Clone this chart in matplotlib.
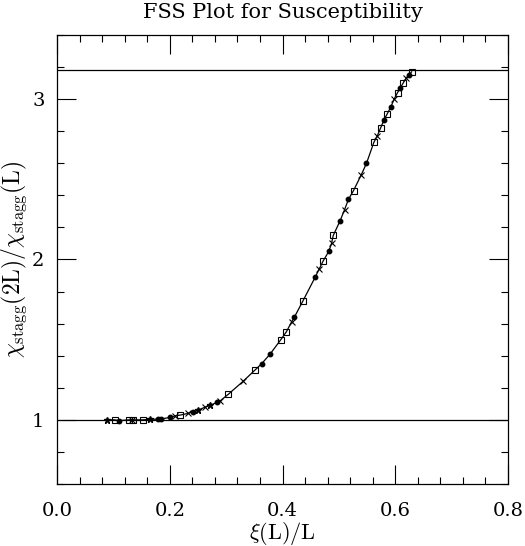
import matplotlib
matplotlib.use('Agg')
import matplotlib.pyplot as plt
from matplotlib.ticker import MultipleLocator, FormatStrFormatter

plt.rcParams['font.family'] = 'DejaVu Serif'
plt.rcParams['mathtext.fontset'] = 'cm'

# scaling data: xi(L)/L and chi(2L)/chi(L)
sq_x = [0.102, 0.128, 0.135, 0.152, 0.219, 0.304, 0.351, 0.397, 0.407, 0.436,
        0.472, 0.490, 0.526, 0.562, 0.574, 0.586, 0.604, 0.614, 0.629]
sq_y = [1.00, 1.00, 1.00, 1.00, 1.03, 1.16, 1.31, 1.50, 1.55, 1.74,
        1.99, 2.15, 2.43, 2.73, 2.82, 2.91, 3.04, 3.10, 3.17]
dot_x = [0.110, 0.180, 0.184, 0.200, 0.241, 0.284, 0.363, 0.378, 0.421, 0.458,
         0.482, 0.502, 0.517, 0.549, 0.580, 0.592, 0.609, 0.624]
dot_y = [0.995, 1.005, 1.005, 1.015, 1.05, 1.11, 1.35, 1.41, 1.64, 1.89,
         2.05, 2.24, 2.375, 2.60, 2.87, 2.95, 3.07, 3.15]
crs_x = [0.133, 0.210, 0.232, 0.263, 0.290, 0.330, 0.416, 0.465, 0.487, 0.510,
         0.540, 0.568, 0.598, 0.619]
crs_y = [1.00, 1.025, 1.04, 1.08, 1.12, 1.24, 1.61, 1.94, 2.10, 2.31,
         2.53, 2.77, 3.00, 3.13]
star_x = [0.088, 0.165, 0.250, 0.272]
star_y = [1.00, 1.003, 1.06, 1.09]

y_low = 1.0
y_high = 3.18

fig = plt.figure(figsize=(5.25, 5.46), dpi=100)
ax = fig.add_axes([57/525, 62/546, 451/525, 449/546])

# line through everything, sorted by x
pts = sorted(zip(sq_x + dot_x + crs_x + star_x, sq_y + dot_y + crs_y + star_y))
ax.plot([p[0] for p in pts], [p[1] for p in pts], color='k', lw=0.9)

ax.axhline(y_low, color='k', lw=0.9)
ax.axhline(y_high, color='k', lw=0.9)

ax.plot(sq_x, sq_y, 's', ms=4, mfc='none', mec='k', mew=0.8)
ax.plot(dot_x, dot_y, 'o', ms=3.2, color='k')
ax.plot(crs_x, crs_y, 'x', ms=4, color='k', mew=0.8)
ax.plot(star_x, star_y, '*', ms=5, color='k')

ax.set_xlim(0, 0.8)
ax.set_ylim(0.6, 3.4)
ax.xaxis.set_major_locator(MultipleLocator(0.2))
ax.xaxis.set_minor_locator(MultipleLocator(0.04))
ax.xaxis.set_major_formatter(FormatStrFormatter('%.1f'))
ax.yaxis.set_major_locator(MultipleLocator(1))
ax.yaxis.set_minor_locator(MultipleLocator(0.2))
ax.tick_params(which='both', direction='in', top=True, right=True, width=0.8)
ax.tick_params(which='major', length=14, labelsize=14)
ax.tick_params(which='minor', length=5)
ax.tick_params(axis='x', which='major', pad=13)
ax.tick_params(axis='y', which='major', pad=9)
for s in ax.spines.values():
    s.set_linewidth(0.9)

ax.set_title('FSS Plot for Susceptibility', fontsize=15, pad=12)
ax.set_xlabel(r'$\xi(\mathrm{L})/\mathrm{L}$', fontsize=16, labelpad=0)
ax.set_ylabel(r'$\chi_{\mathrm{stagg}}(2\mathrm{L})/\chi_{\mathrm{stagg}}(\mathrm{L})$',
              fontsize=17)
ax.yaxis.set_label_coords(-0.062, 0.5)

fig.savefig('out.png', dpi=100)
